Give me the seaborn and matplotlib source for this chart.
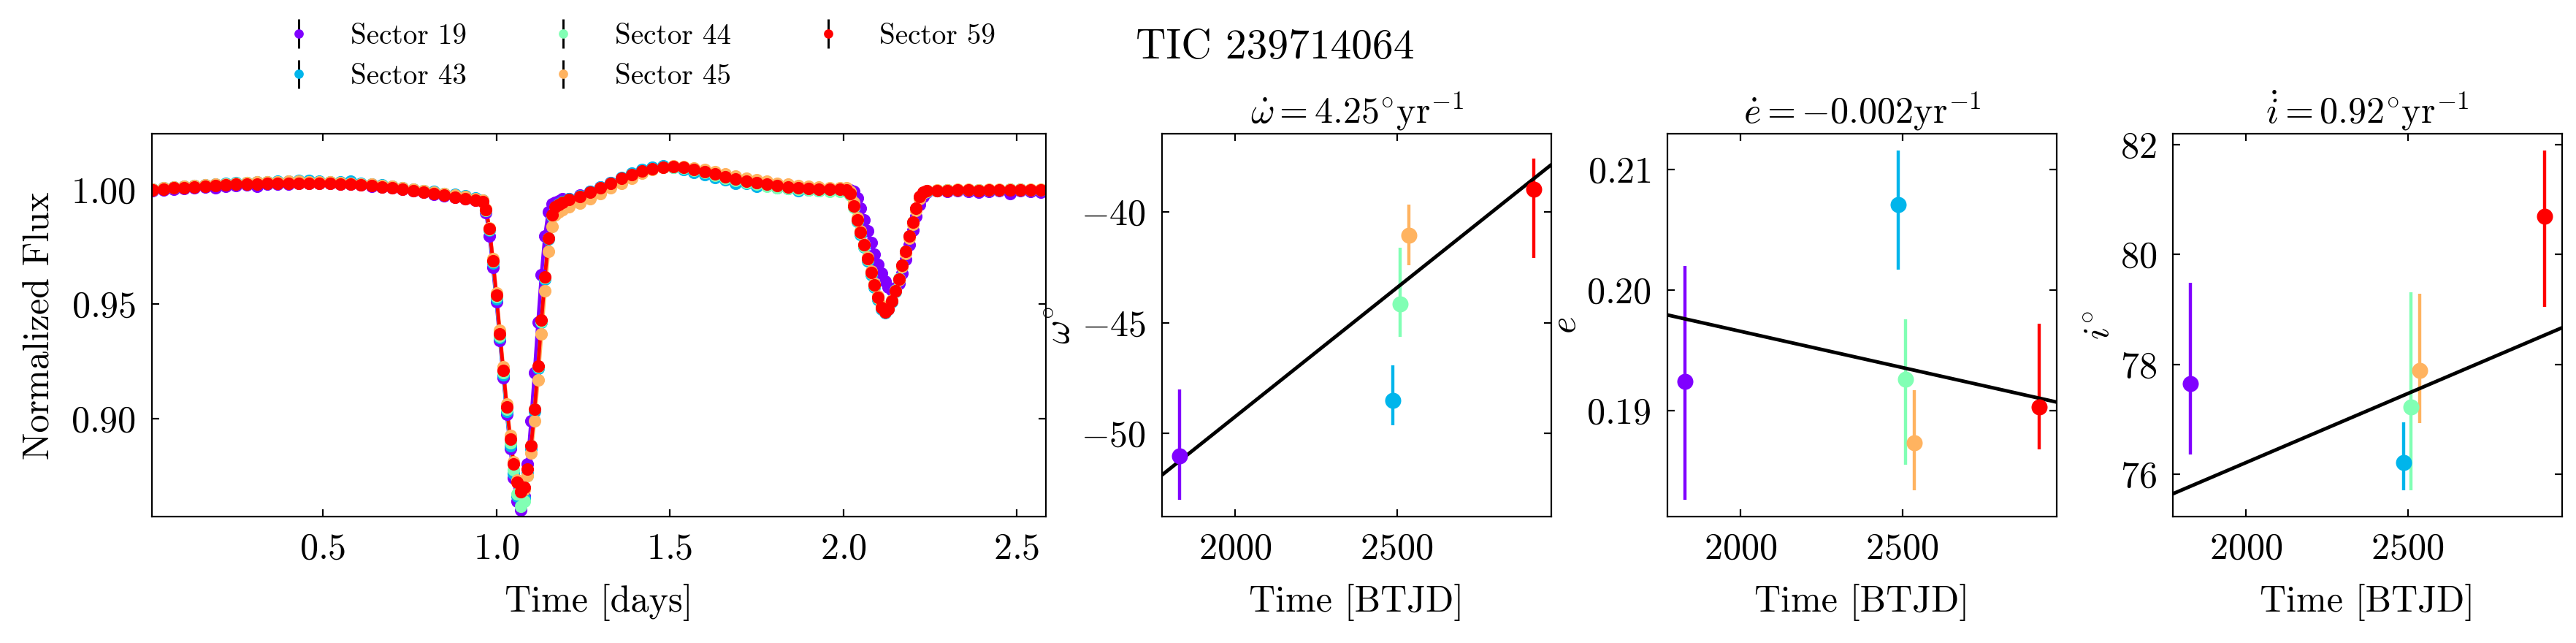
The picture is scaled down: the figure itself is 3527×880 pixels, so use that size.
import matplotlib
matplotlib.use("Agg")
import matplotlib.pyplot as plt
from matplotlib.ticker import MultipleLocator
import seaborn as sns
import numpy as np

# ---- light curve (folded), one flux list per sector ----
time_days = [0.01, 0.04, 0.07, 0.10, 0.13, 0.16, 0.19, 0.22, 0.25, 0.28, 0.31, 0.34, 0.37, 0.40, 0.43, 0.46,
             0.49, 0.52, 0.55, 0.58, 0.61, 0.64, 0.67, 0.70, 0.73, 0.76, 0.79, 0.82, 0.85, 0.88, 0.91, 0.94,
             0.96, 0.97, 0.98, 0.99, 1.00, 1.01, 1.02, 1.03, 1.04, 1.05, 1.06, 1.07, 1.08, 1.09, 1.10, 1.11,
             1.12, 1.13, 1.14, 1.15, 1.16, 1.17, 1.18, 1.19,
             1.21, 1.24, 1.27, 1.30, 1.33, 1.36, 1.39, 1.42, 1.45, 1.48, 1.51, 1.54, 1.57, 1.60, 1.63, 1.66,
             1.69, 1.72, 1.75, 1.78, 1.81, 1.84, 1.87, 1.90, 1.93, 1.96, 1.99,
             2.01, 2.02, 2.03, 2.04, 2.05, 2.06, 2.07, 2.08, 2.09, 2.10, 2.11, 2.12, 2.13, 2.14, 2.15, 2.16,
             2.17, 2.18, 2.19, 2.20, 2.21, 2.22, 2.23, 2.24,
             2.27, 2.30, 2.33, 2.36, 2.39, 2.42, 2.45, 2.48, 2.51, 2.54, 2.57]

flux_s19 = [0.9998, 1.0001, 1.0004, 1.0006, 1.0009, 1.0012, 1.0008, 1.0016, 1.0019, 1.0021, 1.0015, 1.0024, 1.0025, 1.0027, 1.0028, 1.0028,
            1.0029, 1.0028, 1.0026, 1.0024, 1.0021, 1.0017, 1.0013, 1.0008, 1.0002, 0.9996, 0.9989, 0.9982, 0.9975, 0.9968, 0.9961, 0.9954,
            0.9952, 0.9900, 0.9800, 0.9660, 0.9510, 0.9340, 0.9180, 0.9020, 0.8870, 0.8740, 0.8640, 0.8600, 0.8660, 0.8800, 0.8990, 0.9200,
            0.9420, 0.9630, 0.9800, 0.9905, 0.9938, 0.9946, 0.9953, 0.9960,
            0.9962, 0.9976, 0.9993, 1.0012, 1.0032, 1.0052, 1.0070, 1.0085, 1.0096, 1.0101, 1.0103, 1.0099, 1.0091, 1.0081, 1.0070, 1.0059,
            1.0049, 1.0040, 1.0032, 1.0025, 1.0019, 1.0014, 1.0010, 1.0007, 1.0005, 1.0004, 1.0003,
            1.0002, 1.0001, 0.9995, 0.9965, 0.9920, 0.9870, 0.9820, 0.9770, 0.9720, 0.9675, 0.9635, 0.9600, 0.9575, 0.9562, 0.9568, 0.9590,
            0.9635, 0.9695, 0.9760, 0.9825, 0.9885, 0.9935, 0.9972, 0.9990,
            0.9996, 0.9993, 0.9997, 0.9994, 0.9990, 0.9995, 0.9997, 0.9985, 0.9996, 0.9992, 0.9990]

flux_s43 = [1.0003, 1.0008, 1.0012, 1.0016, 1.0019, 1.0022, 1.0025, 1.0028, 1.0031, 1.0033, 1.0035, 1.0036, 1.0037, 1.0038, 1.0040, 1.0042,
            1.0039, 1.0036, 1.0034, 1.0037, 1.0030, 1.0026, 1.0021, 1.0016, 1.0010, 1.0004, 0.9998, 0.9992, 0.9985, 0.9980, 0.9974, 0.9965,
            0.9955, 0.9910, 0.9825, 0.9680, 0.9525, 0.9355, 0.9190, 0.9030, 0.8880, 0.8760, 0.8660, 0.8620, 0.8650, 0.8760, 0.8870, 0.9030,
            0.9220, 0.9420, 0.9610, 0.9785, 0.9885, 0.9925, 0.9938, 0.9948,
            0.9960, 0.9975, 0.9993, 1.0013, 1.0033, 1.0053, 1.0072, 1.0088, 1.0098, 1.0104, 1.0100, 1.0090, 1.0078, 1.0066, 1.0055, 1.0045,
            1.0030, 1.0028, 1.0015, 1.0018, 1.0008, 1.0005, 0.9998, 1.0000, 0.9997, 0.9999, 0.9998,
            0.9998, 0.9980, 0.9925, 0.9862, 0.9805, 0.9750, 0.9690, 0.9630, 0.9575, 0.9522, 0.9480, 0.9462, 0.9478, 0.9512, 0.9556, 0.9606,
            0.9665, 0.9725, 0.9795, 0.9855, 0.9915, 0.9965, 0.9988, 0.9995,
            0.9996, 0.9999, 1.0000, 1.0001, 0.9999, 1.0000, 1.0001, 1.0002, 1.0002, 1.0001, 1.0001]

flux_s44 = [1.0001, 1.0006, 1.0010, 1.0014, 1.0017, 1.0020, 1.0023, 1.0026, 1.0029, 1.0031, 1.0033, 1.0034, 1.0035, 1.0036, 1.0037, 1.0036,
            1.0036, 1.0034, 1.0032, 1.0030, 1.0026, 1.0022, 1.0018, 1.0013, 1.0007, 1.0001, 0.9994, 0.9987, 0.9980, 0.9973, 0.9966, 0.9958,
            0.9952, 0.9912, 0.9828, 0.9686, 0.9532, 0.9362, 0.9200, 0.9040, 0.8895, 0.8775, 0.8670, 0.8615, 0.8640, 0.8750, 0.8880, 0.9040,
            0.9225, 0.9425, 0.9615, 0.9788, 0.9888, 0.9922, 0.9935, 0.9944,
            0.9956, 0.9970, 0.9988, 1.0008, 1.0028, 1.0048, 1.0066, 1.0081, 1.0092, 1.0098, 1.0100, 1.0095, 1.0086, 1.0075, 1.0063, 1.0052,
            1.0041, 1.0032, 1.0024, 1.0017, 1.0011, 1.0006, 1.0002, 0.9999, 0.9996, 0.9994, 0.9993,
            0.9994, 0.9978, 0.9924, 0.9865, 0.9810, 0.9755, 0.9695, 0.9636, 0.9580, 0.9527, 0.9484, 0.9466, 0.9482, 0.9518, 0.9562, 0.9612,
            0.9672, 0.9732, 0.9800, 0.9860, 0.9918, 0.9966, 0.9988, 0.9995,
            0.9997, 0.9999, 1.0000, 1.0000, 1.0000, 1.0001, 1.0001, 1.0002, 1.0001, 1.0001, 1.0000]

flux_s45 = [1.0003, 1.0008, 1.0012, 1.0016, 1.0019, 1.0022, 1.0025, 1.0027, 1.0030, 1.0032, 1.0034, 1.0035, 1.0036, 1.0037, 1.0037, 1.0036,
            1.0035, 1.0034, 1.0032, 1.0030, 1.0027, 1.0024, 1.0020, 1.0015, 1.0010, 1.0004, 0.9998, 0.9991, 0.9984, 0.9977, 0.9970, 0.9962,
            0.9956, 0.9918, 0.9835, 0.9700, 0.9550, 0.9385, 0.9225, 0.9065, 0.8925, 0.8810, 0.8730, 0.8685, 0.8690, 0.8750, 0.8850, 0.8990,
            0.9170, 0.9370, 0.9560, 0.9730, 0.9840, 0.9890, 0.9905, 0.9915,
            0.9925, 0.9942, 0.9962, 0.9985, 1.0008, 1.0030, 1.0052, 1.0072, 1.0088, 1.0099, 1.0104, 1.0102, 1.0096, 1.0088, 1.0079, 1.0070,
            1.0061, 1.0052, 1.0044, 1.0037, 1.0030, 1.0024, 1.0019, 1.0015, 1.0012, 1.0010, 1.0009,
            1.0008, 0.9995, 0.9945, 0.9880, 0.9822, 0.9765, 0.9705, 0.9645, 0.9590, 0.9538, 0.9496, 0.9476, 0.9486, 0.9516, 0.9558, 0.9606,
            0.9664, 0.9722, 0.9790, 0.9850, 0.9910, 0.9962, 0.9986, 0.9996,
            0.9999, 1.0001, 1.0002, 1.0002, 1.0001, 1.0002, 1.0003, 1.0003, 1.0003, 1.0002, 1.0002]

flux_s59 = [1.0000, 1.0004, 1.0008, 1.0011, 1.0014, 1.0017, 1.0020, 1.0022, 1.0024, 1.0026, 1.0027, 1.0028, 1.0029, 1.0030, 1.0030, 1.0030,
            1.0030, 1.0029, 1.0027, 1.0025, 1.0022, 1.0018, 1.0014, 1.0009, 1.0003, 0.9997, 0.9990, 0.9983, 0.9976, 0.9969, 0.9962, 0.9955,
            0.9950, 0.9915, 0.9830, 0.9690, 0.9540, 0.9370, 0.9210, 0.9050, 0.8910, 0.8800, 0.8720, 0.8680, 0.8700, 0.8780, 0.8880, 0.9040,
            0.9230, 0.9430, 0.9620, 0.9790, 0.9890, 0.9925, 0.9935, 0.9945,
            0.9958, 0.9972, 0.9990, 1.0010, 1.0030, 1.0050, 1.0068, 1.0083, 1.0094, 1.0100, 1.0102, 1.0098, 1.0090, 1.0080, 1.0069, 1.0058,
            1.0048, 1.0039, 1.0031, 1.0024, 1.0018, 1.0013, 1.0009, 1.0006, 1.0004, 1.0003, 1.0002,
            1.0000, 0.9985, 0.9930, 0.9870, 0.9815, 0.9760, 0.9700, 0.9640, 0.9585, 0.9530, 0.9485, 0.9465, 0.9480, 0.9515, 0.9560, 0.9610,
            0.9670, 0.9730, 0.9800, 0.9860, 0.9920, 0.9970, 0.9990, 0.9996,
            0.9997, 0.9998, 0.9999, 0.9999, 0.9998, 0.9999, 1.0000, 1.0001, 1.0001, 1.0000, 1.0000]

sectors = ["Sector 19", "Sector 43", "Sector 44", "Sector 45", "Sector 59"]
fluxes = [flux_s19, flux_s43, flux_s44, flux_s45, flux_s59]
flux_errs = [0.0012, 0.0010, 0.0010, 0.0015, 0.0008]

# ---- per-sector fitted parameters ----
sector_time = [1830, 2487, 2511, 2538, 2922]   # BTJD
omega = [-51.01, -48.51, -44.15, -41.07, -38.99]
omega_lo = [1.97, 1.12, 1.48, 1.33, 3.11]
omega_hi = [2.99, 1.59, 2.51, 1.38, 1.37]
ecc = [0.1924, 0.2071, 0.1926, 0.1873, 0.1903]
ecc_lo = [0.0098, 0.0054, 0.0071, 0.0039, 0.0035]
ecc_hi = [0.0096, 0.0045, 0.0050, 0.0044, 0.0069]
inc = [77.65, 76.21, 77.22, 77.89, 80.69]
inc_lo = [1.29, 0.50, 1.51, 0.96, 1.64]
inc_hi = [1.83, 0.73, 2.09, 1.40, 1.20]

# linear trends: rate per year, value at t_ref
t_ref = 2500
omega_dot, omega_ref = 4.25, -43.43
e_dot, e_ref = -0.0022, 0.19357
i_dot, i_ref = 0.92, 77.466

sns.set_style("ticks")
plt.rcParams.update({
    "font.family": "serif",
    "font.serif": ["cmr10"],
    "mathtext.fontset": "cm",
    "axes.formatter.use_mathtext": True,
    "axes.unicode_minus": True,
    "axes.edgecolor": "black",
    "axes.labelcolor": "black",
    "text.color": "black",
    "xtick.color": "black",
    "ytick.color": "black",
    "axes.linewidth": 0.9,
})
FS = 20.5

colors = plt.cm.rainbow(np.linspace(0, 1, len(sectors)))

fig = plt.figure(figsize=(3527 / 176, 880 / 176), dpi=176)
ax1 = fig.add_axes([0.05897, 0.1961, 0.34704, 0.5956])
ax2 = fig.add_axes([0.45109, 0.1961, 0.15112, 0.5956])
ax3 = fig.add_axes([0.64729, 0.1961, 0.15112, 0.5956])
ax4 = fig.add_axes([0.84349, 0.1961, 0.15112, 0.5956])

# light curve
for name, fl, err, c in zip(sectors, fluxes, flux_errs, colors):
    ax1.errorbar(time_days, fl, yerr=err, fmt="o", color=c, ecolor="k",
                 elinewidth=1.2, ms=6, label=name, zorder=2)
    sns.lineplot(x=time_days, y=fl, color=c, lw=2, ax=ax1, legend=False, zorder=2)
ax1.set_xlim(0.007, 2.584)
ax1.set_ylim(0.857, 1.0245)
ax1.xaxis.set_major_locator(MultipleLocator(0.5))
ax1.yaxis.set_major_locator(MultipleLocator(0.05))
ax1.set_xlabel("Time [days]", fontsize=FS, labelpad=10)
ax1.set_ylabel("Normalized Flux", fontsize=FS, labelpad=8)

handles, labels = ax1.get_legend_handles_labels()
fig.legend(handles, labels, loc="center", bbox_to_anchor=(0.2457, 0.912), ncol=3,
           frameon=False, fontsize=16, columnspacing=2.4, markerscale=0.7)

# parameter evolution panels
panels = [
    (ax2, omega, omega_lo, omega_hi, omega_dot, omega_ref, r"$\omega^{\circ}$",
     r"$\dot{\omega} = %.2f^{\circ}\mathrm{yr}^{-1}$" % omega_dot, (-53.75, -36.5), 5),
    (ax3, ecc, ecc_lo, ecc_hi, e_dot, e_ref, r"$e$",
     r"$\dot{e} = %.3f\mathrm{yr}^{-1}$" % e_dot, (0.18117, 0.21296), 0.01),
    (ax4, inc, inc_lo, inc_hi, i_dot, i_ref, r"$i^{\circ}$",
     r"$\dot{i} = %.2f^{\circ}\mathrm{yr}^{-1}$" % i_dot, (75.22, 82.196), 2),
]
t_arr = np.array(sector_time, dtype=float)
span = t_arr.max() - t_arr.min()
xlim = (t_arr.min() - 0.05 * span, t_arr.max() + 0.05 * span)
for ax, vals, lo, hi, rate, ref, ylab, title, ylim, step in panels:
    for k in range(len(sectors)):
        ax.errorbar(sector_time[k], vals[k], yerr=[[lo[k]], [hi[k]]], fmt="o",
                    color=colors[k], ms=8, elinewidth=1.8, capsize=0)
    tt = np.array(xlim)
    sns.lineplot(x=tt, y=ref + rate * (tt - t_ref) / 365.25, color="k", lw=2,
                 ax=ax, legend=False)
    ax.set_xlim(*xlim)
    ax.set_ylim(*ylim)
    ax.xaxis.set_major_locator(MultipleLocator(500))
    ax.yaxis.set_major_locator(MultipleLocator(step))
    ax.set_xlabel("Time [BTJD]", fontsize=FS, labelpad=10)
    ax.set_ylabel(ylab, fontsize=FS, labelpad=2)
    ax.set_title(title, fontsize=FS)

for ax in (ax1, ax2, ax3, ax4):
    ax.tick_params(direction="in", top=True, right=True, length=4, width=0.9,
                   labelsize=FS)
    ax.tick_params(axis="y", pad=9)
    ax.tick_params(axis="x", pad=9)

fig.text(0.495, 0.926, "TIC 239714064", ha="center", va="center", fontsize=23.5)

fig.savefig("out.png", dpi=176)
